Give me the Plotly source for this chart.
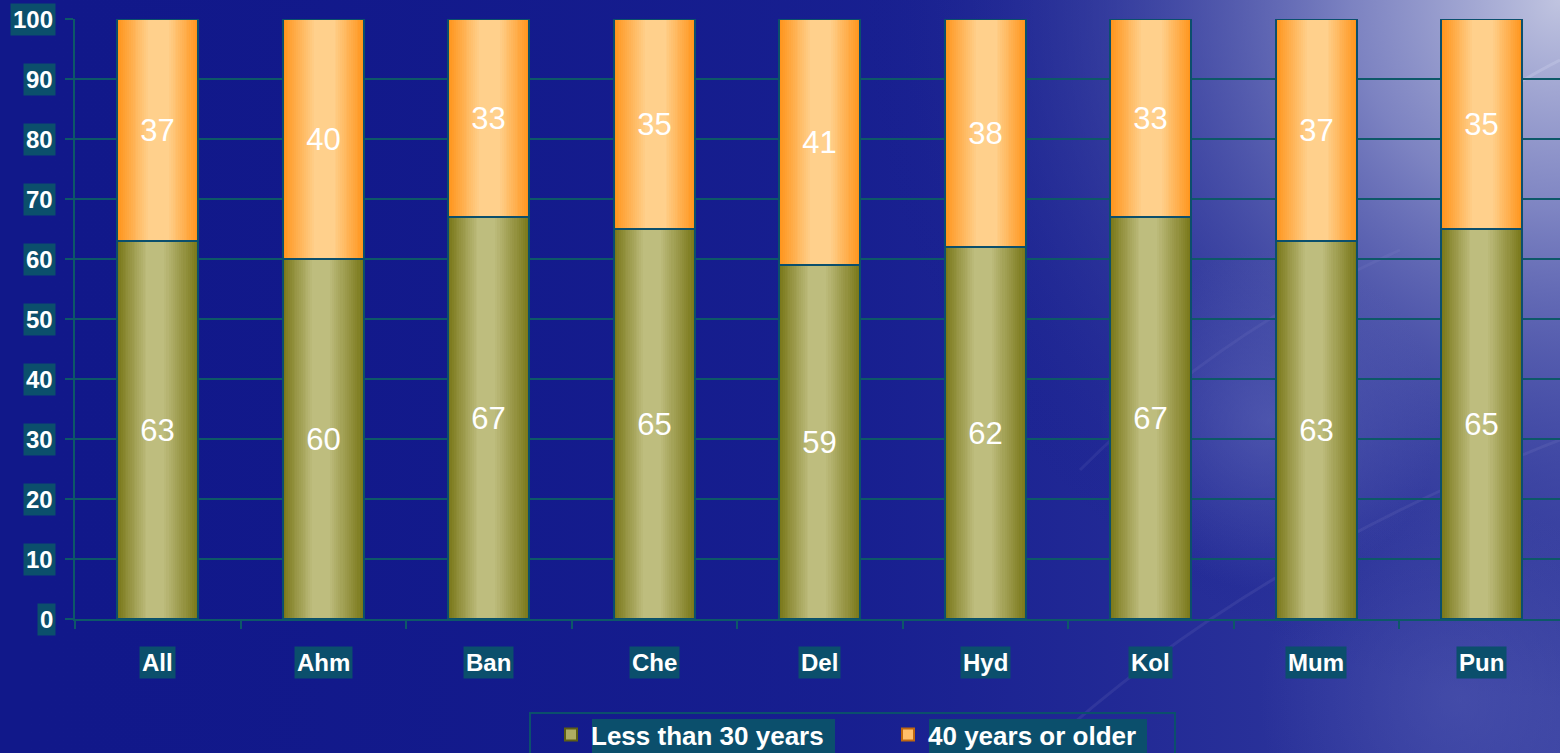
import base64
import plotly.graph_objects as go

# ---------------- data ----------------
cities = ["All", "Ahm", "Ban", "Che", "Del", "Hyd", "Kol", "Mum", "Pun"]
under30 = [63, 60, 67, 65, 59, 62, 67, 63, 65]
over40 = [37, 40, 33, 35, 41, 38, 33, 37, 35]
series_names = ["Less than 30 years", "40 years or older"]
y_ticks = [0, 10, 20, 30, 40, 50, 60, 70, 80, 90, 100]

# ---------------- layout constants ----------------
W, H = 1560, 753
ML, MR, MT, MB = 75, 0, 19, 134
PW, PH = W - ML - MR, H - MT - MB
TEAL = "#0b4f6c"
GRID = "#0d5868"
BAR_W = 0.49


def px_x(p):
    return (p - ML) / PW


def px_y(p):
    return (H - MB - p) / PH


def mix(c1, c2, t):
    a = [int(c1[i:i + 2], 16) for i in (1, 3, 5)]
    b = [int(c2[i:i + 2], 16) for i in (1, 3, 5)]
    return "#" + "".join(f"{round(a[i] + (b[i] - a[i]) * t):02x}" for i in range(3))


fig = go.Figure()

series = [
    (series_names[0], under30, [0] * len(under30), "#7a781a", "#bebd7e", 0.36, 0.42),
    (series_names[1], over40, under30, "#ff951c", "#ffd08c", 0.38, 0.36),
]

N = 16
for name, vals, base, edge, center, lramp, rramp in series:
    for k in range(N + 1):
        lf = lramp * k / N
        rf = 1 - rramp * k / N
        fig.add_trace(go.Bar(
            x=cities, y=vals, base=base,
            width=BAR_W * (rf - lf), offset=-BAR_W / 2 + BAR_W * lf,
            marker=dict(color=mix(edge, center, k / N), line=dict(width=0)),
            name=name, showlegend=False, hoverinfo="skip",
        ))
    # top transparent trace with outline and labels
    fig.add_trace(go.Bar(
        x=cities, y=vals, base=base, width=BAR_W,
        marker=dict(color="rgba(0,0,0,0)", line=dict(width=2, color=TEAL)),
        text=[str(v) for v in vals], textposition="inside",
        insidetextanchor="middle", constraintext="none",
        textfont=dict(family="Liberation Sans, Arial", size=31, color="white"),
        name=name, showlegend=False, hoverinfo="skip",
    ))

# legend entries
for name, col, lc in [(series_names[0], "#aeac62", "#5e5e14"), (series_names[1], "#ffbe6a", "#c06810")]:
    fig.add_trace(go.Bar(
        x=[cities[0]], y=[None],
        marker=dict(color=col, line=dict(width=2, color=lc)),
        name=name, showlegend=True, hoverinfo="skip",
    ))

# ---------------- background ----------------
svg = f'''<svg xmlns="http://www.w3.org/2000/svg" width="{W}" height="{H}" viewBox="0 0 {W} {H}">
<defs>
<linearGradient id="lin" x1="0" y1="0" x2="{W}" y2="0" gradientUnits="userSpaceOnUse">
<stop offset="0" stop-color="#11188a" stop-opacity="0"/>
<stop offset="0.55" stop-color="#1c2494" stop-opacity="0.6"/>
<stop offset="1" stop-color="#3a42a2" stop-opacity="1"/>
</linearGradient>
<radialGradient id="tr" cx="{W}" cy="0" r="700" gradientUnits="userSpaceOnUse">
<stop offset="0" stop-color="#c0c4e0" stop-opacity="1"/>
<stop offset="0.3" stop-color="#8a90c8" stop-opacity="0.85"/>
<stop offset="0.65" stop-color="#4a52a8" stop-opacity="0.45"/>
<stop offset="1" stop-color="#11188a" stop-opacity="0"/>
</radialGradient>
<radialGradient id="blob" cx="1270" cy="420" r="170" gradientUnits="userSpaceOnUse">
<stop offset="0" stop-color="#6068b8" stop-opacity="0.6"/>
<stop offset="1" stop-color="#6068b8" stop-opacity="0"/>
</radialGradient>
<radialGradient id="blob2" cx="1460" cy="700" r="200" gradientUnits="userSpaceOnUse">
<stop offset="0" stop-color="#5058b0" stop-opacity="0.55"/>
<stop offset="1" stop-color="#5058b0" stop-opacity="0"/>
</radialGradient>
</defs>
<rect width="{W}" height="{H}" fill="#11188a"/>
<rect width="{W}" height="{H}" fill="url(#lin)"/>
<rect width="{W}" height="{H}" fill="url(#tr)"/>
<rect width="{W}" height="{H}" fill="url(#blob)"/>
<rect width="{W}" height="{H}" fill="url(#blob2)"/>
<path d="M 1040 753 Q 1250 560 1560 440" stroke="#9aa0d8" stroke-opacity="0.12" stroke-width="3" fill="none"/>
<path d="M 1080 470 Q 1220 330 1400 250" stroke="#9aa0d8" stroke-opacity="0.1" stroke-width="3" fill="none"/>
<path d="M 1460 120 Q 1520 80 1560 60" stroke="#d0d4f0" stroke-opacity="0.3" stroke-width="3" fill="none"/>
</svg>'''
src = "data:image/svg+xml;base64," + base64.b64encode(svg.encode()).decode()

fig.add_layout_image(dict(
    source=src, xref="paper", yref="paper",
    x=px_x(0), y=px_y(0), sizex=W / PW, sizey=H / PH,
    xanchor="left", yanchor="top", sizing="stretch", layer="below",
))

# ---------------- tick label annotations ----------------
for v in y_ticks:
    fig.add_annotation(
        xref="paper", yref="y", x=0, y=v, xshift=-19, xanchor="right", yanchor="middle",
        text=f"<b>{v}</b>", showarrow=False, bgcolor=TEAL, borderpad=2,
        font=dict(family="Liberation Sans, Arial", size=24, color="white"),
    )
for c in cities:
    fig.add_annotation(
        xref="x", yref="y", x=c, y=0, yshift=-43, xanchor="center", yanchor="middle",
        text=f"<b>{c}</b>", showarrow=False, bgcolor=TEAL, borderpad=2,
        font=dict(family="Liberation Sans, Arial", size=24, color="white"),
    )

# legend box and text backgrounds
fig.add_shape(type="rect", xref="paper", yref="paper",
              x0=px_x(530), x1=px_x(1175), y0=px_y(713), y1=px_y(780),
              line=dict(color=TEAL, width=2), fillcolor="rgba(0,0,0,0)", layer="above")
for a, b in [(592, 835), (929, 1147)]:
    fig.add_shape(type="rect", xref="paper", yref="paper",
                  x0=px_x(a), x1=px_x(b), y0=px_y(719), y1=px_y(770),
                  line=dict(width=0), fillcolor=TEAL, layer="above")

fig.update_layout(
    width=W, height=H,
    margin=dict(l=ML, r=MR, t=MT, b=MB, autoexpand=False),
    paper_bgcolor="#11188a", plot_bgcolor="rgba(0,0,0,0)",
    barmode="overlay", bargap=0,
    font=dict(family="Liberation Sans, Arial", color="white"),
    showlegend=True,
    legend=dict(
        orientation="h", xref="container", yref="container",
        x=551 / W, y=(H - 711) / H, xanchor="left", yanchor="top",
        bgcolor="rgba(0,0,0,0)", borderwidth=0, traceorder="normal",
        font=dict(family="Liberation Sans, Arial", size=26, color="white", weight="bold"),
        entrywidth=292, entrywidthmode="pixels", itemclick=False,
    ),
    xaxis=dict(
        type="category", range=[-0.5, 8.5 - 4.5 / 165.5], showgrid=False,
        showticklabels=False, ticks="outside", ticklen=8, tickcolor=GRID, tickwidth=2,
        tickson="boundaries", showline=True, linecolor=GRID, linewidth=2, zeroline=False,
        fixedrange=True,
    ),
    yaxis=dict(
        range=[0, 100], tickvals=y_ticks, showticklabels=False, showgrid=True,
        gridcolor=GRID, gridwidth=2, ticks="outside", ticklen=8, tickcolor=GRID, tickwidth=2,
        showline=True, linecolor=GRID, linewidth=2, zeroline=False, fixedrange=True,
    ),
)

fig.write_html("out.html")
